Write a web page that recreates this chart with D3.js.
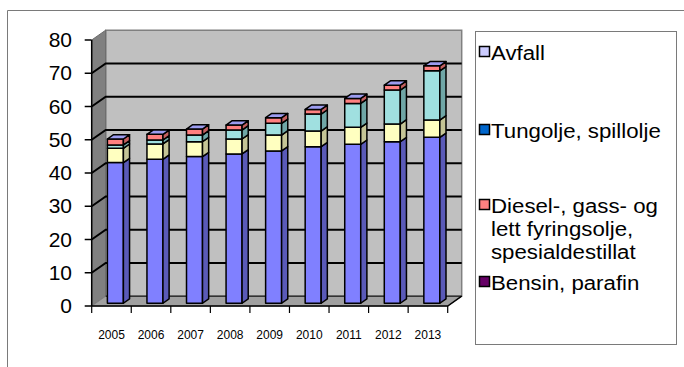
<!DOCTYPE html>
<html>
<head>
<meta charset="utf-8">
<script src="https://cdn.jsdelivr.net/npm/d3@7"></script>
<style>
  html, body { margin: 0; padding: 0; background: #fff; }
  svg { display: block; font-family: "Liberation Sans", Arial, sans-serif; }
</style>
</head>
<body>
<svg id="chart" width="684" height="367"></svg>
<script>
// Years along the category axis
const years = ["2005", "2006", "2007", "2008", "2009", "2010", "2011", "2012", "2013"];

// Stacked series, bottom to top
const bensin   = [42.3, 43.3, 44.1, 44.9, 45.8, 47.1, 47.8, 48.6, 49.9];
const diesel   = [4.3, 4.6, 4.5, 4.5, 4.8, 4.7, 5.1, 5.3, 5.2];
const tungolje = [1.0, 1.2, 2.0, 2.7, 3.5, 5.1, 7.2, 10.2, 14.8];
const avfall   = [1.8, 1.7, 1.8, 1.5, 1.7, 1.4, 1.5, 1.5, 1.5];

const seriesNames = ["Bensin, parafin",
  "Diesel-, gass- og lett fyringsolje, spesialdestillat",
  "Tungolje, spillolje", "Avfall"];

// Legend entries, top to bottom, with their wrapped lines
const legendLines = [
  ["Avfall"],
  ["Tungolje, spillolje"],
  ["Diesel-, gass- og", "lett fyringsolje,", "spesialdestillat"],
  ["Bensin, parafin"]
];

const yTicks = [0, 10, 20, 30, 40, 50, 60, 70, 80];

// Face colours for each stacked series: front, side
const faceFront = ["#8080ff", "#ffffc0", "#a0e0e0", "#ff8080"];
const faceSide  = ["#5a5ab8", "#c4c496", "#6fa6a6", "#c46060"];
const topFace   = "#9c9cf0";
const legendSwatch = ["#ccccff", "#0066cc", "#ff8080", "#660066"];

const svg = d3.select("#chart");

// Outer chart frame
svg.append("path").attr("d", "M7.5,367 L7.5,10.5 L684,10.5")
  .attr("fill", "none").attr("stroke", "#7a7a7a").attr("stroke-width", 1);

// Front-plane scales
const x = d3.scaleBand().domain(years).range([91.7, 447.7]).padding(0);
const y = d3.scaleLinear().domain([0, 80]).range([306, 40]);

// Oblique depth projection
const DX = 14, DY = -9.8;
const proj = (px, py, d) => [px + d * DX, py + d * DY];
const poly = pts => "M" + pts.map(p => p[0] + "," + p[1]).join("L") + "Z";

const x0 = x.range()[0], x1 = x.range()[1];
const yb = y(0), yt = y(80);

// Back wall
svg.append("path")
  .attr("d", poly([proj(x0, yb, 1), proj(x1, yb, 1), proj(x1, yt, 1), proj(x0, yt, 1)]))
  .attr("fill", "#c0c0c0").attr("stroke", "#808080").attr("stroke-width", 1.5);
// Side wall
svg.append("path")
  .attr("d", poly([proj(x0, yb, 0), proj(x0, yb, 1), proj(x0, yt, 1), proj(x0, yt, 0)]))
  .attr("fill", "#808080").attr("stroke", "#6a6a6a").attr("stroke-width", 1);
// Floor
svg.append("path")
  .attr("d", poly([proj(x0, yb, 0), proj(x1, yb, 0), proj(x1, yb, 1), proj(x0, yb, 1)]))
  .attr("fill", "#a0a0a0").attr("stroke", "#808080").attr("stroke-width", 1);

// Gridlines across the side and back walls
yTicks.filter(v => v > 0 && v < 80).forEach(v => {
  const a = proj(x0, y(v), 0), b = proj(x0, y(v), 1), c = proj(x1, y(v), 1);
  svg.append("path").attr("d", `M${a}L${b}L${c}`)
    .attr("fill", "none").attr("stroke", "#000").attr("stroke-width", 2);
});
{
  const b = proj(x0, yb, 1), c = proj(x1, yb, 1);
  svg.append("path").attr("d", `M${b}L${c}`)
    .attr("stroke", "#333").attr("stroke-width", 1.5);
}

// Floor front and right edges
{
  const a = proj(x0, yb, 0), b = proj(x1, yb, 0), c = proj(x1, yb, 1);
  svg.append("path").attr("d", `M${a}L${b}L${c}`)
    .attr("fill", "none").attr("stroke", "#000").attr("stroke-width", 1.5);
}

// Vertical value axis with ticks and labels (labels drawn slightly wide)
svg.append("line").attr("x1", x0).attr("x2", x0).attr("y1", yt).attr("y2", yb)
  .attr("stroke", "#000").attr("stroke-width", 1.5);
const yAxisG = svg.append("g");
yTicks.forEach(v => {
  yAxisG.append("line").attr("x1", x0 - 7).attr("x2", x0).attr("y1", y(v)).attr("y2", y(v))
    .attr("stroke", "#000").attr("stroke-width", 1.5);
  yAxisG.append("text").attr("transform", `translate(72,${y(v)}) scale(1.05,1)`)
    .attr("dy", "0.36em")
    .attr("text-anchor", "end").attr("font-size", 20).attr("fill", "#000").text(v);
});

// Category ticks and labels
d3.range(years.length + 1).forEach(i => {
  const tx = x0 + i * x.bandwidth();
  svg.append("line").attr("x1", tx).attr("x2", tx).attr("y1", yb).attr("y2", yb + 7)
    .attr("stroke", "#000").attr("stroke-width", 1.2);
});
years.forEach(yr => {
  svg.append("text").attr("x", x(yr) + x.bandwidth() / 2).attr("y", 338.5)
    .attr("text-anchor", "middle").attr("font-size", 12).attr("fill", "#000").text(yr);
});

// Stacked 3D columns
const rows = years.map((yr, i) => ({ year: yr, s0: bensin[i], s1: diesel[i], s2: tungolje[i], s3: avfall[i] }));
const stack = d3.stack().keys(["s0", "s1", "s2", "s3"])(rows);

const barW = 16;
const dFront = 0.28, dBack = 0.72;
const barsG = svg.append("g");
years.forEach((yr, i) => {
  const left = x(yr) + (x.bandwidth() - barW) / 2;
  const right = left + barW;
  stack.forEach((layer, k) => {
    const v0 = layer[i][0], v1 = layer[i][1];
    const fl = proj(left, y(v1), dFront), fr = proj(right, y(v1), dFront);
    const blf = proj(left, y(v0), dFront), brf = proj(right, y(v0), dFront);
    // front face
    barsG.append("path").attr("d", poly([blf, brf, fr, fl]))
      .attr("fill", faceFront[k]).attr("stroke", "#000").attr("stroke-width", 1.5)
      .attr("stroke-linejoin", "round");
    // side face
    const sb = proj(right, y(v0), dBack), st = proj(right, y(v1), dBack);
    barsG.append("path").attr("d", poly([brf, sb, st, fr]))
      .attr("fill", faceSide[k]).attr("stroke", "#000").attr("stroke-width", 1.5)
      .attr("stroke-linejoin", "round");
    if (k === stack.length - 1) {
      const tl = proj(left, y(v1), dBack);
      barsG.append("path").attr("d", poly([fl, fr, st, tl]))
        .attr("fill", topFace).attr("stroke", "#000").attr("stroke-width", 1.5)
        .attr("stroke-linejoin", "round");
    }
  });
});

// Legend
const lg = svg.append("g");
lg.append("rect").attr("x", 475.5).attr("y", 31.5).attr("width", 201).attr("height", 313)
  .attr("fill", "#fff").attr("stroke", "#7a7a7a").attr("stroke-width", 1);
const legendTop = [52, 130, 205, 282];
legendLines.forEach((lines, k) => {
  const ty = legendTop[k];
  lg.append("rect").attr("x", 479.5).attr("y", ty - 5.5).attr("width", 10).attr("height", 10)
    .attr("fill", legendSwatch[k]).attr("stroke", "#000").attr("stroke-width", 1.5);
  lines.forEach((ln, j) => {
    lg.append("text").attr("transform", `translate(491,${ty + j * 23}) scale(1.06,1)`)
      .attr("dy", "0.36em")
      .attr("font-size", 21).attr("fill", "#000").text(ln);
  });
});
</script>
</body>
</html>
